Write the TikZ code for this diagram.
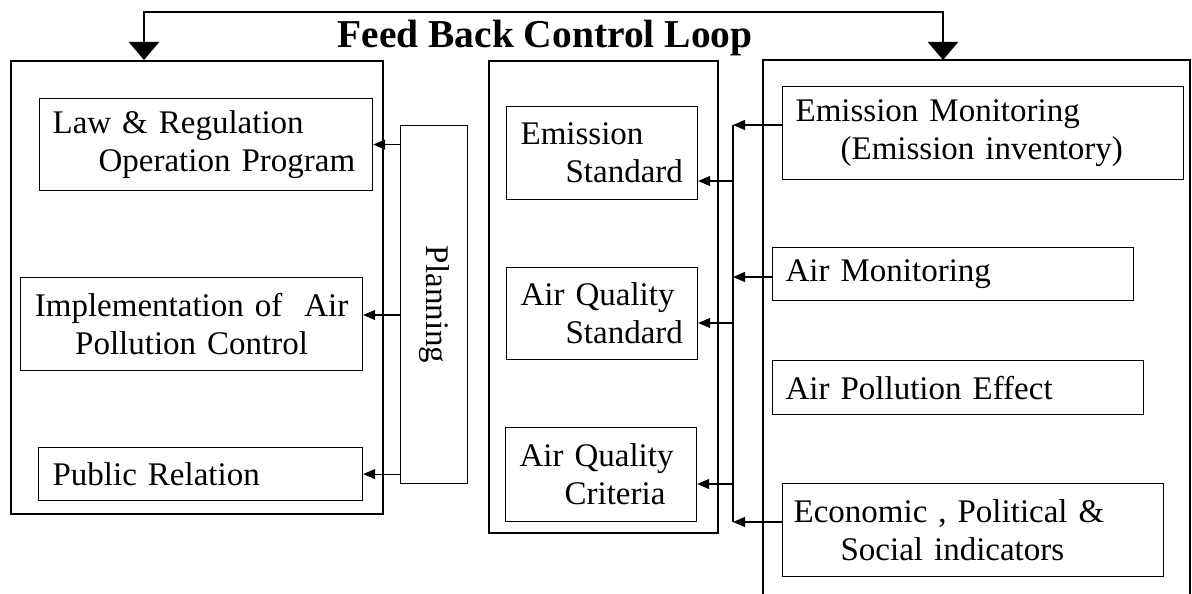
\documentclass[tikz,border=0pt]{standalone}
\usepackage{fontspec}
\setmainfont{Liberation Serif}
\usepackage{graphicx}
\usetikzlibrary{arrows.meta}

\newcommand{\boxfont}{\fontsize{33}{38}\selectfont}
\newcommand{\loopfont}{\fontsize{39.5}{44}\selectfont\bfseries}

\begin{document}
\begin{tikzpicture}[x=1pt,y=-1pt,
  frame/.style={draw, line width=1.8pt, anchor=north west, inner sep=0pt},
  item/.style={draw, line width=1.2pt, anchor=north west, align=left, inner ysep=0pt, font=\boxfont},
  wire/.style={line width=1.2pt},
  tip/.style={wire, -{Triangle[length=12pt,width=10pt]}},
  fb/.style={line width=2.2pt, {Triangle[length=18pt,width=30pt]}-{Triangle[length=18pt,width=30pt]}}]

  \useasboundingbox (0,0) rectangle (1192,594);

  % Outer frames
  \node[frame, minimum width=372pt, minimum height=453pt] (lframe) at (10,60) {};
  \node[frame, minimum width=229pt, minimum height=472pt] (mframe) at (488,60) {};
  \draw[line width=1.8pt] (763,594) |- (1190,60) -- (1190,594);
  \coordinate (rtop) at (943,60);

  % Feedback loop
  \coordinate (fbl) at (144,12);
  \coordinate (fbr) at (943,12);
  \draw[fb] (lframe.north -| fbl) -- (fbl) -- (fbr) -- (rtop);
  \node[font=\loopfont, anchor=base, inner sep=0pt] (title) at (545,48) {Feed Back Control Loop};

  % Left column
  \node[item, inner xsep=13pt, text width=307pt, minimum height=92pt] (law) at (39,98) {Law \& Regulation\\\hspace*{46pt}Operation Program};
  \node[item, inner xsep=4pt, text width=334pt, minimum height=93pt, align=center] (impl) at (20,277) {Implementation of \ Air\\Pollution Control};
  \node[item, inner xsep=14pt, text width=296pt, minimum height=53pt] (pub) at (38,447) {Public Relation};
  \node[draw, line width=1.2pt, minimum width=67pt, minimum height=358pt, inner sep=0pt, anchor=north west, font=\boxfont] (plan) at (400,125) {\rotatebox{-90}{Planning}};

  % Middle column
  \node[item, inner xsep=14pt, text width=163pt, minimum height=93pt] (es) at (506,106) {Emission\\\hspace*{45pt}Standard};
  \node[item, inner xsep=14pt, text width=163pt, minimum height=92pt] (aqs) at (506,267) {Air Quality\\\hspace*{45pt}Standard};
  \node[item, inner xsep=14pt, text width=163pt, minimum height=94pt] (aqc) at (505,427) {Air Quality\\\hspace*{45pt}Criteria};

  % Right column
  \node[item, inner xsep=13pt, text width=375pt, minimum height=93pt] (emon) at (782,86) {Emission Monitoring\\\hspace*{45pt}(Emission inventory)};
  \node[item, inner xsep=13pt, text width=335pt, minimum height=53pt] (amon) at (772,247) {Air Monitoring};
  \node[item, inner xsep=13pt, text width=345pt, minimum height=54pt] (apeff) at (772,360) {Air Pollution Effect};
  \node[item, inner xsep=11pt, text width=359pt, minimum height=93pt] (econ) at (782,483) {Economic , Political \&\\\hspace*{47pt}Social indicators};

  % Bus
  \coordinate (b1) at (733,125);
  \coordinate (b2) at (733,277);
  \coordinate (b3) at (733,522);
  \coordinate (m1) at (733,181);
  \coordinate (m2) at (733,323);
  \coordinate (m3) at (733,484);
  \draw[wire] (b1) -- (b3);
  \draw[tip] (emon.west |- b1) -- (b1);
  \draw[tip] (amon.west |- b2) -- (b2);
  \draw[tip] (econ.west |- b3) -- (b3);
  \draw[tip] (m1) -- (es.east |- m1);
  \draw[tip] (m2) -- (aqs.east |- m2);
  \draw[tip] (m3) -- (aqc.east |- m3);

  % Planning arrows
  \coordinate (p2) at (400,315);
  \draw[tip] (plan.west |- law.east) -- (law.east);
  \draw[tip] (p2) -- (impl.east |- p2);
  \draw[tip] (plan.west |- pub.east) -- (pub.east);
\end{tikzpicture}
\end{document}
